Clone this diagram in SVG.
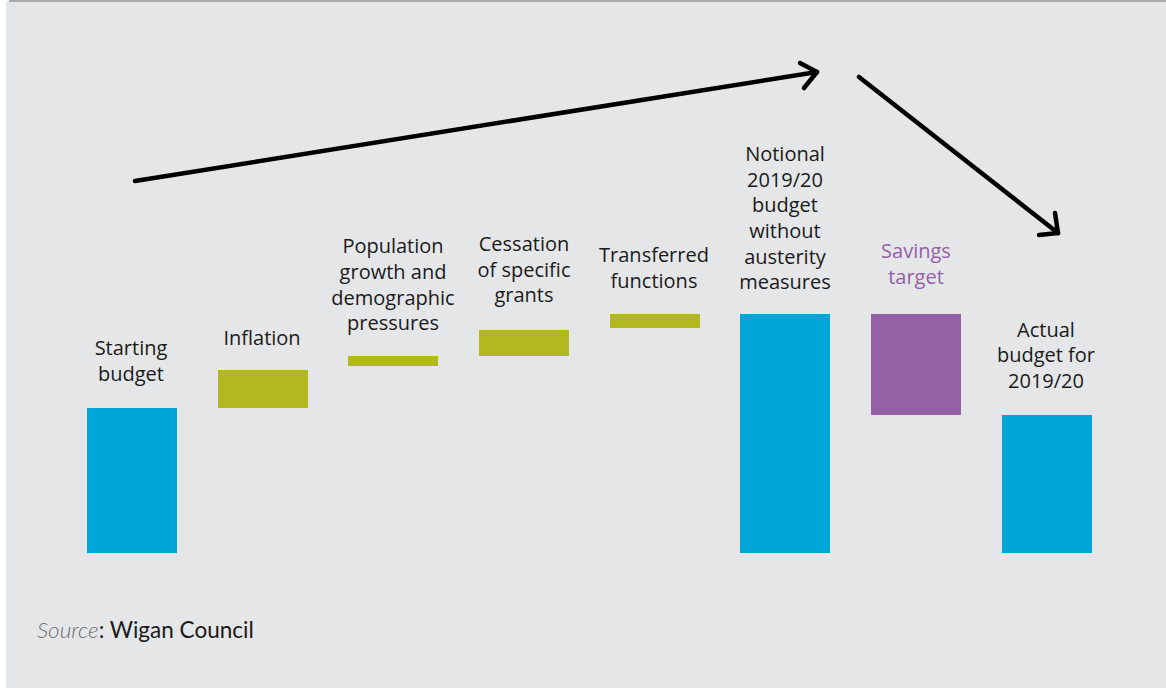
<svg xmlns="http://www.w3.org/2000/svg" width="1166" height="688" viewBox="0 0 1166 688">
<defs>
<style>
.lbl{font-family:"Open Sans","DejaVu Sans",sans-serif;font-size:20px;fill:#1a1a1a;text-anchor:middle}
.sav{fill:#9660a6}
.blue{fill:#00a6d6}
.green{fill:#b1b91e}
.purple{fill:#9660a6}
.arrow{fill:none;stroke:#000;stroke-width:4.5;stroke-linecap:round;stroke-linejoin:round}
</style>
</defs>
<rect x="0" y="0" width="1166" height="688" fill="#ffffff"/>
<rect x="6" y="1" width="1160" height="687" fill="#e5e6e8"/>
<line x1="9" y1="1" x2="1166" y2="1" stroke="#a8a9ab" stroke-width="2"/>

<g id="connectors">
<path class="arrow" d="M135,181 L817,72"/>
<path class="arrow" d="M800,63 L817,72 L804,88"/>
<path class="arrow" d="M859,77 L1058,233"/>
<path class="arrow" d="M1055,213 L1058,233 L1039,235"/>
</g>

<g id="starting">
<rect class="blue" x="87" y="408" width="90" height="145"/>
<text class="lbl" x="131" y="355">Starting</text>
<text class="lbl" x="131" y="381">budget</text>
</g>
<g id="inflation">
<rect class="green" x="218" y="370" width="90" height="38"/>
<text class="lbl" x="262" y="345">Inflation</text>
</g>
<g id="population">
<rect class="green" x="348" y="356" width="90" height="10"/>
<text class="lbl" x="393" y="253">Population</text>
<text class="lbl" x="393" y="279">growth and</text>
<text class="lbl" x="393" y="305">demographic</text>
<text class="lbl" x="393" y="330">pressures</text>
</g>
<g id="cessation">
<rect class="green" x="479" y="330" width="90" height="26"/>
<text class="lbl" x="524" y="251">Cessation</text>
<text class="lbl" x="524" y="277">of specific</text>
<text class="lbl" x="524" y="302">grants</text>
</g>
<g id="transferred">
<rect class="green" x="610" y="314" width="90" height="14"/>
<text class="lbl" x="654" y="262">Transferred</text>
<text class="lbl" x="654" y="288">functions</text>
</g>
<g id="notional">
<rect class="blue" x="740" y="314" width="90" height="239"/>
<text class="lbl" x="785" y="161">Notional</text>
<text class="lbl" x="785" y="187">2019/20</text>
<text class="lbl" x="785" y="212">budget</text>
<text class="lbl" x="785" y="238">without</text>
<text class="lbl" x="785" y="264">austerity</text>
<text class="lbl" x="785" y="289">measures</text>
</g>
<g id="savings">
<rect class="purple" x="871" y="314" width="90" height="101"/>
<text class="lbl sav" x="916" y="258">Savings</text>
<text class="lbl sav" x="916" y="284">target</text>
</g>
<g id="actual">
<rect class="blue" x="1002" y="415" width="90" height="138"/>
<text class="lbl" x="1046" y="337">Actual</text>
<text class="lbl" x="1046" y="362">budget for</text>
<text class="lbl" x="1046" y="388">2019/20</text>
</g>

<text x="37" y="638" font-family="Lato,'Open Sans',sans-serif" font-size="22.5" fill="#1a1a1a"><tspan font-style="italic" font-weight="300" fill="#6d6e70">Source</tspan>: Wigan Council</text>
</svg>
